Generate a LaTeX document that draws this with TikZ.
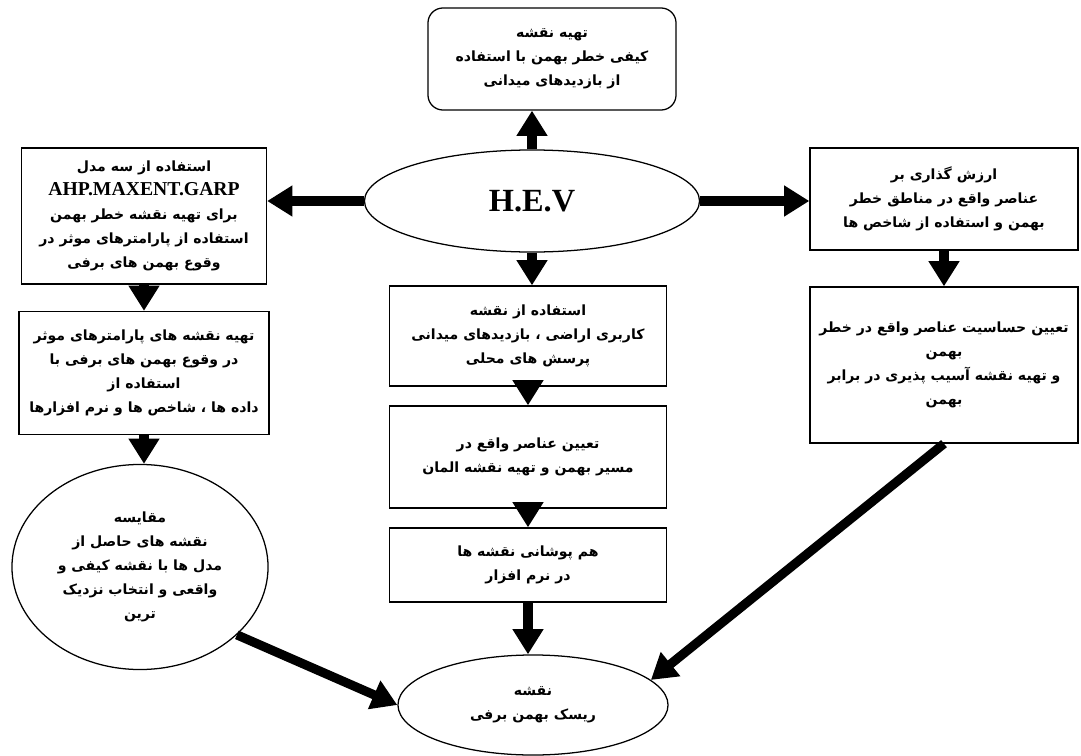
\documentclass[tikz,border=0pt]{standalone}
\usepackage{fontspec}
\setmainfont{Liberation Serif}
\newfontfamily\farsi[Script=Arabic]{DejaVu Sans}
\TeXXeTstate=1
\newcommand{\farline}[1]{\beginR #1\endR}
\usetikzlibrary{shapes.geometric,arrows.meta}

\begin{document}
\begin{tikzpicture}
        [%%%%%%%%%%%%%%%%%%%%%%%%%%%%%%
        x=0.025cm, y=-0.025cm,
        txt/.style={align=center, font=\farsi\bfseries\fontsize{10}{17}\selectfont},
        box/.style={txt, draw=black, line width=0.9pt, inner sep=2pt},
        oval/.style={txt, ellipse, draw=black, line width=0.9pt, inner sep=0pt},
        arr/.style={line width=6.5pt, -{Triangle[length=18pt, width=21pt]}},
        ]%%%%%%%%%%%%%%%%%%%%%%%%%%%%%%
        \useasboundingbox (0,0) rectangle (1081,756);

        % centre of the chart
        \node[oval, minimum width=8.375cm, minimum height=2.55cm,
              font=\bfseries\fontsize{23}{26}\selectfont] (hev) at (532,201) {H.E.V};

        % top
        \node[box, rounded corners=0.375cm, minimum width=6.2cm, minimum height=2.55cm] (top) at (552,59)
          {\farline{تهیه نقشه}\\ \farline{کیفی خطر بهمن با استفاده}\\ \farline{از بازدیدهای میدانی}};

        % left column
        \node[box, minimum width=6.125cm, minimum height=3.4cm] (lbox1) at (144,216)
          {\farline{استفاده از سه مدل}\\
           {\rmfamily\bfseries\fontsize{14}{17}\selectfont AHP.MAXENT.GARP}\\
           \farline{برای تهیه نقشه خطر بهمن}\\
           \farline{استفاده از پارامترهای موثر در}\\
           \farline{وقوع بهمن های برفی}};
        \node[box, minimum width=6.25cm, minimum height=3.075cm] (lbox2) at (144,373)
          {\farline{تهیه نقشه های پارامترهای موثر}\\
           \farline{در وقوع بهمن های برفی با}\\
           \farline{استفاده از}\\
           \farline{داده ها ، شاخص ها و نرم افزارها}};
        \node[oval, minimum width=6.4cm, minimum height=5.125cm] (lell) at (140,567)
          {\farline{مقایسه}\\
           \farline{نقشه های حاصل از}\\
           \farline{مدل ها با نقشه کیفی و}\\
           \farline{واقعی و انتخاب نزدیک}\\
           \farline{ترین}};

        % middle column
        \node[box, minimum width=6.925cm, minimum height=2.5cm] (mbox1) at (528,336)
          {\farline{استفاده از نقشه}\\
           \farline{کاربری اراضی ، بازدیدهای میدانی}\\
           \farline{پرسش های محلی}};
        \node[box, minimum width=6.925cm, minimum height=2.55cm] (mbox2) at (528,457)
          {\farline{تعیین عناصر واقع در}\\
           \farline{مسیر بهمن و تهیه نقشه المان}};
        \node[box, minimum width=6.925cm, minimum height=1.85cm] (mbox3) at (528,565)
          {\farline{هم پوشانی نقشه ها}\\
           \farline{در نرم افزار}};
        \node[oval, minimum width=6.75cm, minimum height=2.5cm] (bell) at (533,705)
          {\farline{نقشه}\\ \farline{ریسک بهمن برفی}};

        % right column
        \node[box, minimum width=6.7cm, minimum height=2.55cm] (rbox1) at (944,199)
          {\farline{ارزش گذاری بر}\\
           \farline{عناصر واقع در مناطق خطر}\\
           \farline{بهمن و استفاده از شاخص ها}};
        \node[box, minimum width=6.7cm, minimum height=3.9cm] (rbox2) at (944,365)
          {\farline{تعیین حساسیت عناصر واقع در خطر}\\
           \farline{بهمن}\\
           \farline{و تهیه نقشه آسیب پذیری در برابر}\\
           \farline{بهمن}};

        % arrows
        \draw[arr] (hev.north) -- (hev.north |- top.south);
        \draw[arr] (hev.west) -- (hev.west -| lbox1.east);
        \draw[arr] (hev.east) -- (hev.east -| rbox1.west);
        \draw[arr] (hev.south) -- (hev.south |- mbox1.north);
        \draw[arr] (lbox1.south) -- (lbox2.north);
        \draw[arr] (lbox2.south) -- (lbox2.south |- lell.north);
        \draw[arr] (mbox1.south) -- (mbox2.north);
        \draw[arr] (mbox2.south) -- (mbox3.north);
        \draw[arr] (mbox3.south) -- (mbox3.south |- bell.north);
        \draw[arr] (rbox1.south) -- (rbox2.north);
        \draw[arr] (lell.-35) -- (bell.west);
        \draw[arr] (rbox2.south) -- (bell.12);

      \end{tikzpicture}
\end{document}
